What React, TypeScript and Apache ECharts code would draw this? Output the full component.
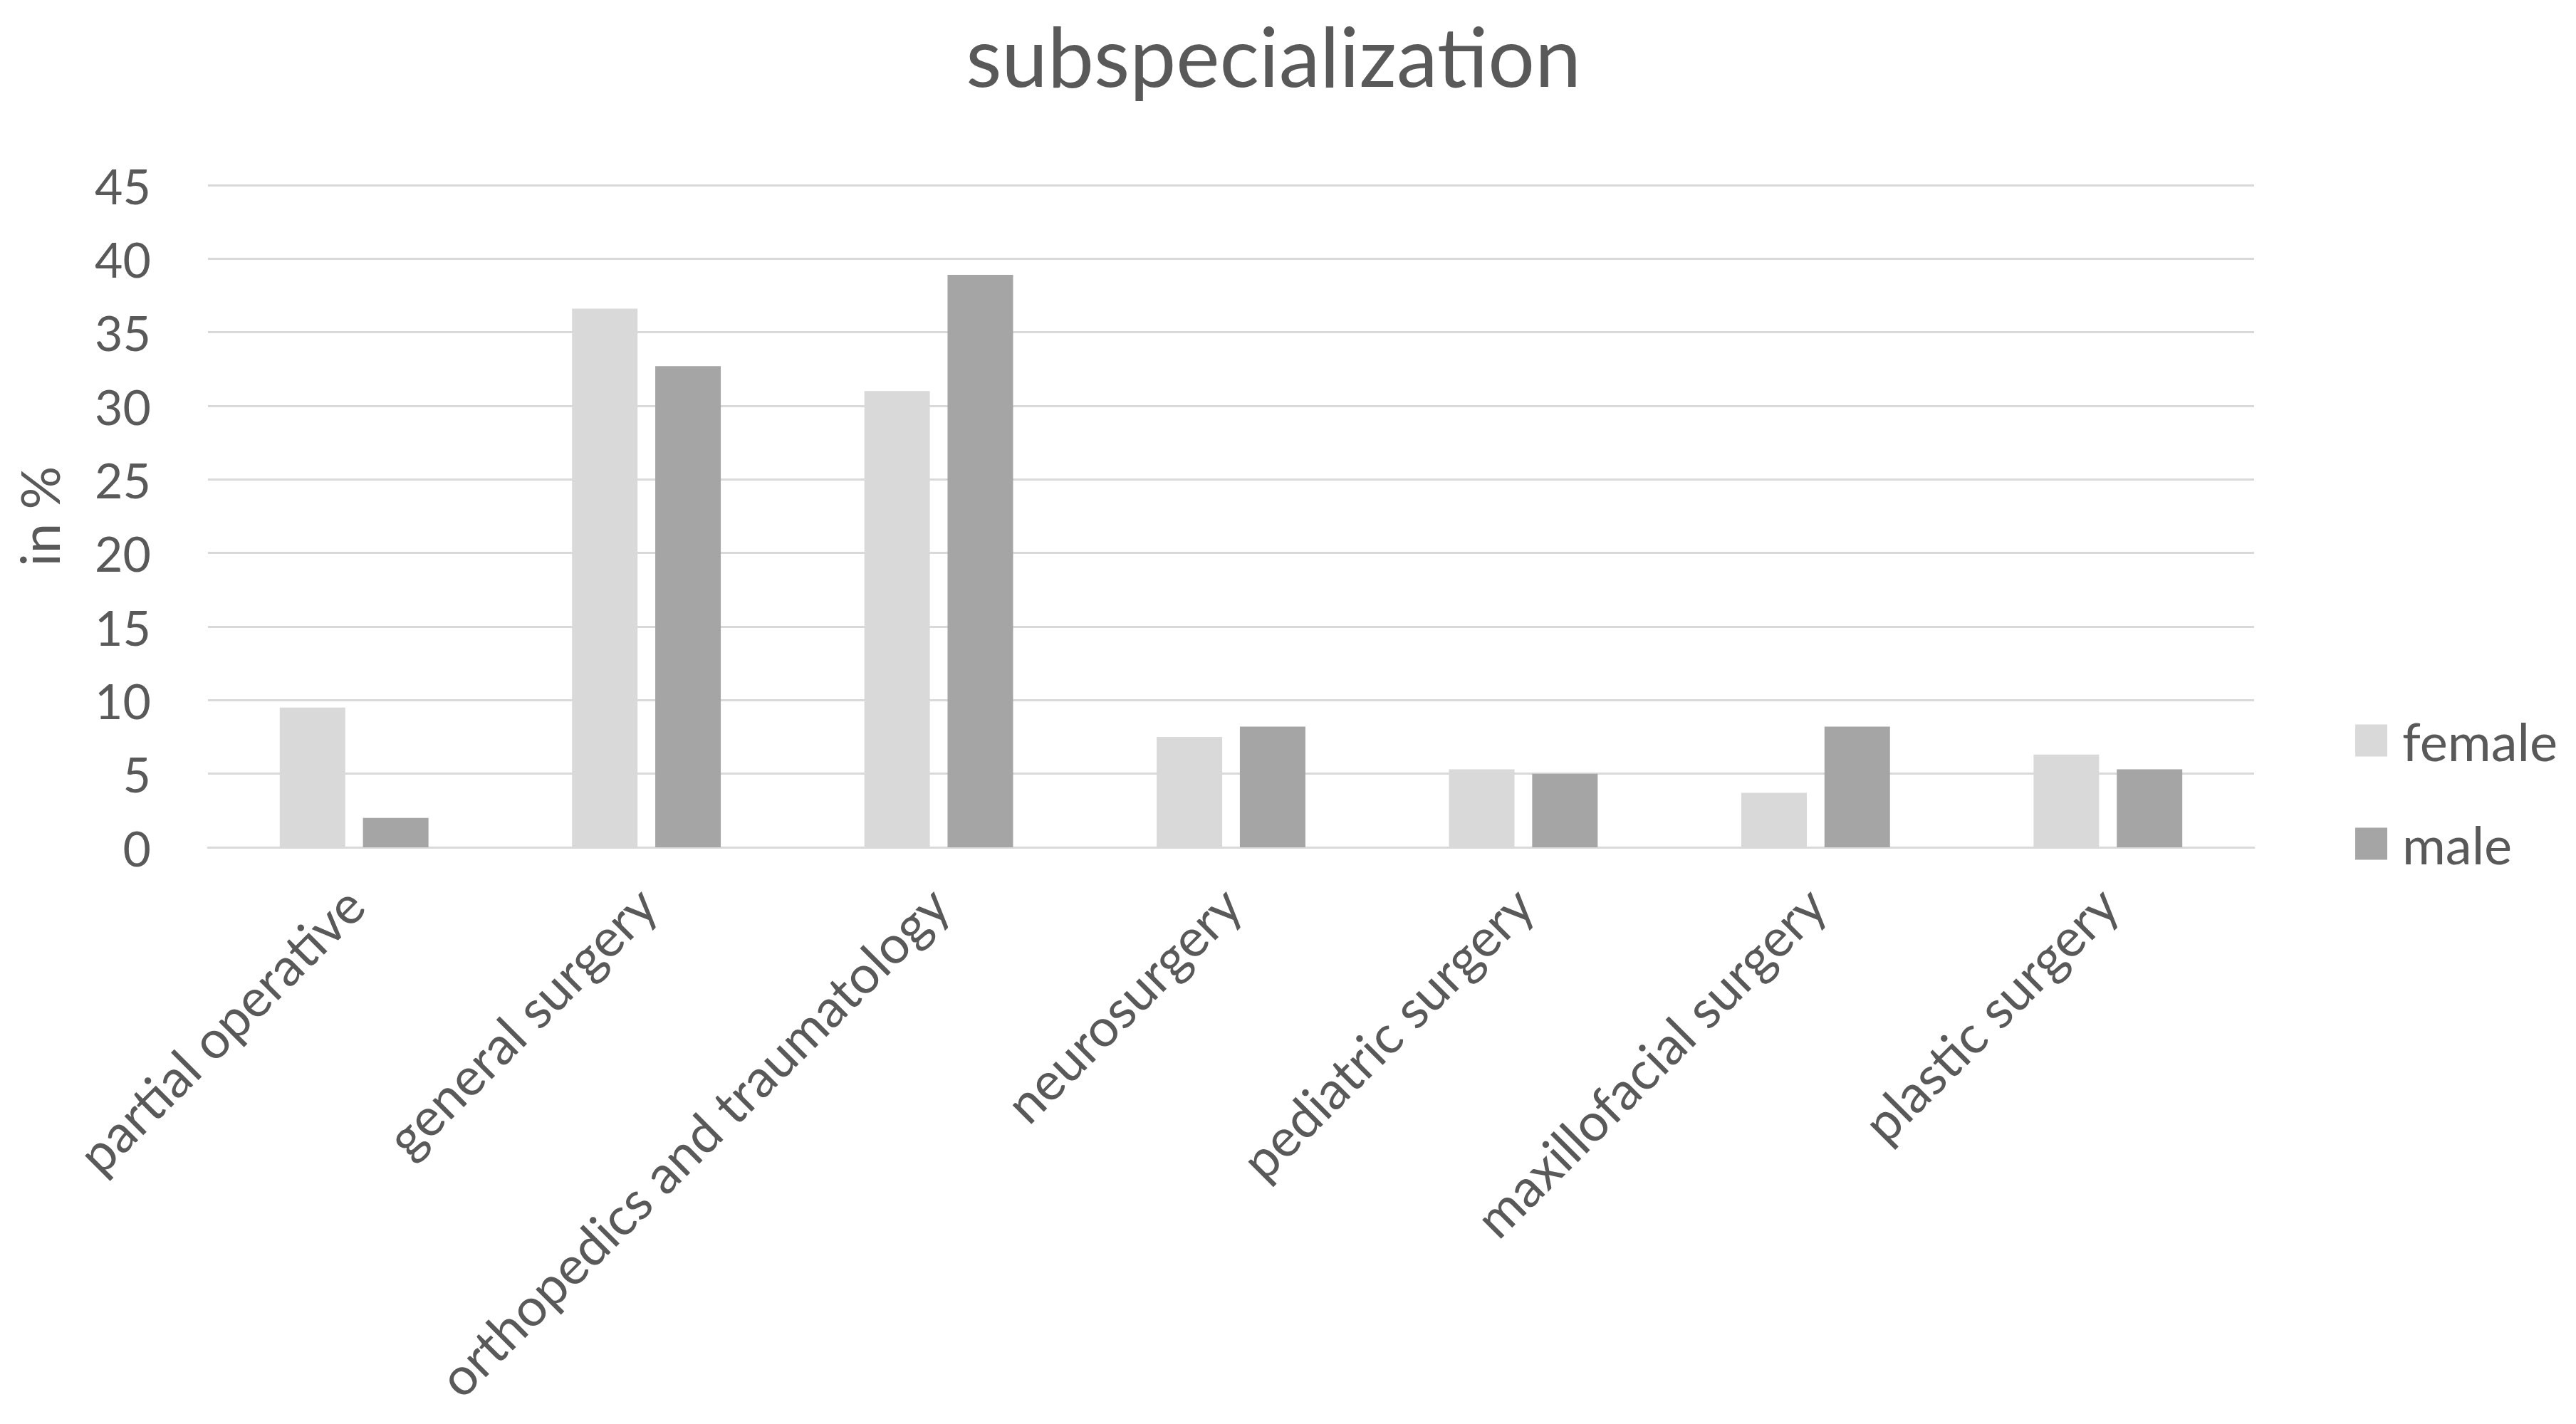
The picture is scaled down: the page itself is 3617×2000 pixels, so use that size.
import React, { useEffect, useRef } from "react";
import * as echarts from "echarts";

const categories = [
  "partial operative",
  "general surgery",
  "orthopedics and traumatology",
  "neurosurgery",
  "pediatric surgery",
  "maxillofacial surgery",
  "plastic surgery",
];
const femaleValues = [9.5, 36.6, 31.0, 7.5, 5.3, 3.7, 6.3];
const maleValues = [2.0, 32.7, 38.9, 8.2, 5.0, 8.2, 5.3];
const seriesNames = ["female", "male"];
const titleText = "subspecialization";
const yAxisName = "in %";

const FONT = "Lato, 'Open Sans', sans-serif";
const TEXT = "#595959";

export default function App() {
  const ref = useRef<HTMLDivElement>(null);
  useEffect(() => {
    if (!ref.current) return;
    const chart = echarts.init(ref.current, undefined, { renderer: "svg" });
    chart.setOption({
      animation: false,
      backgroundColor: "#ffffff",
      title: {
        text: titleText,
        left: 1783,
        top: 14,
        textAlign: "center",
        textStyle: { fontFamily: FONT, fontSize: 116, fontWeight: "normal", color: TEXT },
      },
      legend: {
        orient: "vertical",
        left: 3302,
        top: 998,
        itemWidth: 45,
        itemHeight: 45,
        itemGap: 71,
        icon: "rect",
        textStyle: { fontFamily: FONT, fontSize: 74, color: TEXT, padding: [0, 0, 0, 16] },
        data: seriesNames,
      },
      grid: { left: 292, right: 452, top: 260, bottom: 810, containLabel: false },
      xAxis: {
        type: "category",
        data: categories,
        axisLine: { show: true, lineStyle: { color: "#d9d9d9", width: 3 } },
        axisTick: { show: false },
        axisLabel: {
          rotate: 45,
          margin: 68,
          interval: 0,
          fontFamily: FONT,
          fontSize: 74,
          color: TEXT,
        },
      },
      yAxis: {
        type: "value",
        min: 0,
        max: 45,
        interval: 5,
        name: yAxisName,
        nameLocation: "middle",
        nameGap: 200,
        nameTextStyle: { fontFamily: FONT, fontSize: 76, color: TEXT },
        axisLine: { show: false },
        axisTick: { show: false },
        axisLabel: { margin: 80, fontFamily: FONT, fontSize: 68, color: TEXT },
        splitLine: { lineStyle: { color: "#d9d9d9", width: 3 } },
      },
      series: [
        {
          name: seriesNames[0],
          type: "bar",
          data: femaleValues,
          barWidth: 92,
          barGap: "27%",
          itemStyle: { color: "#d9d9d9" },
        },
        {
          name: seriesNames[1],
          type: "bar",
          data: maleValues,
          barWidth: 92,
          barGap: "27%",
          itemStyle: { color: "#a5a5a5" },
        },
      ],
    });
    return () => chart.dispose();
  }, []);
  return (
    <div
      ref={ref}
      style={{ position: "fixed", left: 0, top: 0, width: 3617, height: 2000, background: "#fff" }}
    />
  );
}
